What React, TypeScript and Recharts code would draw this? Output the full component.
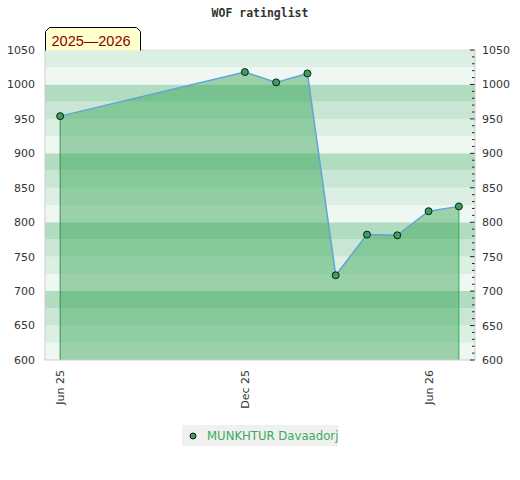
import React from 'react'
import { ComposedChart, Area, Line, XAxis, YAxis, ReferenceArea, ReferenceLine } from 'recharts'

// monthly rating list
const months = [
  '2025-06-01', '2025-12-01', '2026-01-01', '2026-02-01', '2026-03-01',
  '2026-04-01', '2026-05-01', '2026-06-01', '2026-07-01'
]
const ratings = [954, 1018, 1003, 1016, 723, 782, 781, 816, 823]

const dateTicks = ['2025-06-01', '2025-12-01', '2026-06-01']
const dateTickLabels = ['Jun 25', 'Dec 25', 'Jun 26']
const ratingTicks = [600, 650, 700, 750, 800, 850, 900, 950, 1000, 1050]
const playerName = 'MUNKHTUR Davaadorj'
const seasonLabel = '2025—2026'

const toTime = (d: string) => new Date(d + 'T00:00:00Z').getTime()

const data = months.map((m, i) => ({ t: toTime(m), rating: ratings[i] }))
const first = data[0]
const last = data[data.length - 1]

const yMin = ratingTicks[0]
const yMax = ratingTicks[ratingTicks.length - 1]
const minorTicks: number[] = []
for (let v = yMin; v <= yMax; v += 10) minorTicks.push(v)

const bandColors = ['#eef7f1', '#dcefe3', '#c9e6d4', '#b2dcc0']
const bands: { y1: number; y2: number; fill: string }[] = []
for (let v = yMin; v < yMax; v += 25) {
  bands.push({ y1: v, y2: v + 25, fill: bandColors[((v - yMin) / 25) % 4] })
}

const xDomain = [toTime('2025-05-17'), toTime('2026-07-17')]

const font = '"DejaVu Sans", sans-serif'

const DateTick = (props: any) => {
  const { x, y, payload } = props
  const idx = dateTicks.findIndex((d) => toTime(d) === payload.value)
  return (
    <text
      x={x}
      y={y}
      dy={4}
      transform={`rotate(-90, ${x}, ${y})`}
      textAnchor="end"
      fontSize={11}
      fontFamily={font}
      fill="#333"
    >
      {idx >= 0 ? dateTickLabels[idx] : ''}
    </text>
  )
}

const RightTick = (props: any) => {
  const { x, y, payload } = props
  const major = payload.value % 50 === 0
  return (
    <g>
      <line x1={x - (major ? 5 : 3)} x2={x - 0.5} y1={y} y2={y} stroke="#222" strokeWidth={1} />
      {major && (
        <text x={x + 7} y={y} dy={4} fontSize={11} fontFamily={font} fill="#333">
          {payload.value}
        </text>
      )}
    </g>
  )
}

export default function App() {
  return (
    <div style={{ position: 'absolute', left: 0, top: 0, width: 520, height: 480, background: '#fff' }}>
      <ComposedChart
        width={520}
        height={480}
        data={data}
        margin={{ top: 50, right: 0, left: 0, bottom: 60 }}
      >
        <XAxis
          dataKey="t"
          type="number"
          scale="time"
          domain={xDomain}
          ticks={dateTicks.map(toTime)}
          tick={<DateTick />}
          tickLine={false}
          tickSize={0}
          tickMargin={10}
          axisLine={{ stroke: '#ccc' }}
          height={60}
          allowDataOverflow
        />
        <YAxis
          yAxisId="left"
          type="number"
          domain={[yMin, yMax]}
          ticks={ratingTicks}
          tickLine={false}
          tickSize={0}
          tickMargin={10}
          axisLine={{ stroke: '#ccc' }}
          tick={{ fontSize: 11, fontFamily: font, fill: '#333' }}
          width={45}
        />
        <YAxis
          yAxisId="right"
          orientation="right"
          type="number"
          domain={[yMin, yMax]}
          ticks={minorTicks}
          interval={0}
          tickLine={false}
          tickSize={0}
          tickMargin={0}
          axisLine={{ stroke: '#ccc' }}
          tick={<RightTick />}
          width={45}
          allowDataOverflow
        />
        {bands.map((b, i) => (
          <ReferenceArea
            key={`band-${i}`}
            yAxisId="left"
            y1={b.y1}
            y2={b.y2}
            fill={b.fill}
            fillOpacity={1}
            stroke="none"
          />
        ))}
        <ReferenceLine yAxisId="left" y={yMax} stroke="#ddd" />
        <Area
          yAxisId="left"
          type="linear"
          dataKey="rating"
          baseValue={yMin}
          fill="#2da14e"
          fillOpacity={0.43}
          stroke="#62a3da"
          strokeWidth={1.5}
          dot={{ r: 3.5, fill: '#36a35c', stroke: '#1a1a1a', strokeWidth: 1, fillOpacity: 1 }}
          activeDot={false}
          isAnimationActive={false}
        />
        {/* invisible twin so the right axis has a series bound to it */}
        <Line
          yAxisId="right"
          type="linear"
          dataKey="rating"
          stroke="none"
          dot={false}
          activeDot={false}
          legendType="none"
          isAnimationActive={false}
        />
        <ReferenceLine
          yAxisId="left"
          segment={[{ x: first.t, y: yMin }, { x: first.t, y: first.rating }]}
          stroke="#3c8c55"
          strokeWidth={1}
        />
        <ReferenceLine
          yAxisId="left"
          segment={[{ x: last.t, y: yMin }, { x: last.t, y: last.rating }]}
          stroke="#2ab04e"
          strokeWidth={1}
        />
      </ComposedChart>
      <svg width={520} height={60} style={{ position: 'absolute', left: 0, top: 0 }}>
        <text
          x={260}
          y={17}
          textAnchor="middle"
          fontSize={11.5}
          fontWeight="bold"
          fontFamily='"DejaVu Sans Mono", monospace'
          fill="#333"
        >
          WOF ratinglist
        </text>
        <path
          d="M45.5,50.5 L45.5,31.5 L49.5,27.5 L136.5,27.5 L140.5,31.5 L140.5,50.5"
          fill="#ffffcc"
          stroke="#000"
          strokeWidth={1}
        />
        <text x={51.5} y={45.5} fontSize={14.5} fontFamily='"Liberation Sans", Arial, sans-serif' fill="#8b0000">
          {seasonLabel}
        </text>
      </svg>
      <div
        style={{
          position: 'absolute',
          left: 182,
          top: 425,
          width: 156,
          height: 21,
          background: '#f0f0f0',
          display: 'flex',
          alignItems: 'center',
          fontFamily: font,
          fontSize: 11.7,
          color: '#3aaa5c',
          whiteSpace: 'nowrap'
        }}
      >
        <svg width={25} height={21} style={{ flexShrink: 0 }}>
          <circle cx={11} cy={11} r={3} fill="#36a35c" stroke="#111" strokeWidth={1} />
        </svg>
        <span>{playerName}</span>
      </div>
    </div>
  )
}
